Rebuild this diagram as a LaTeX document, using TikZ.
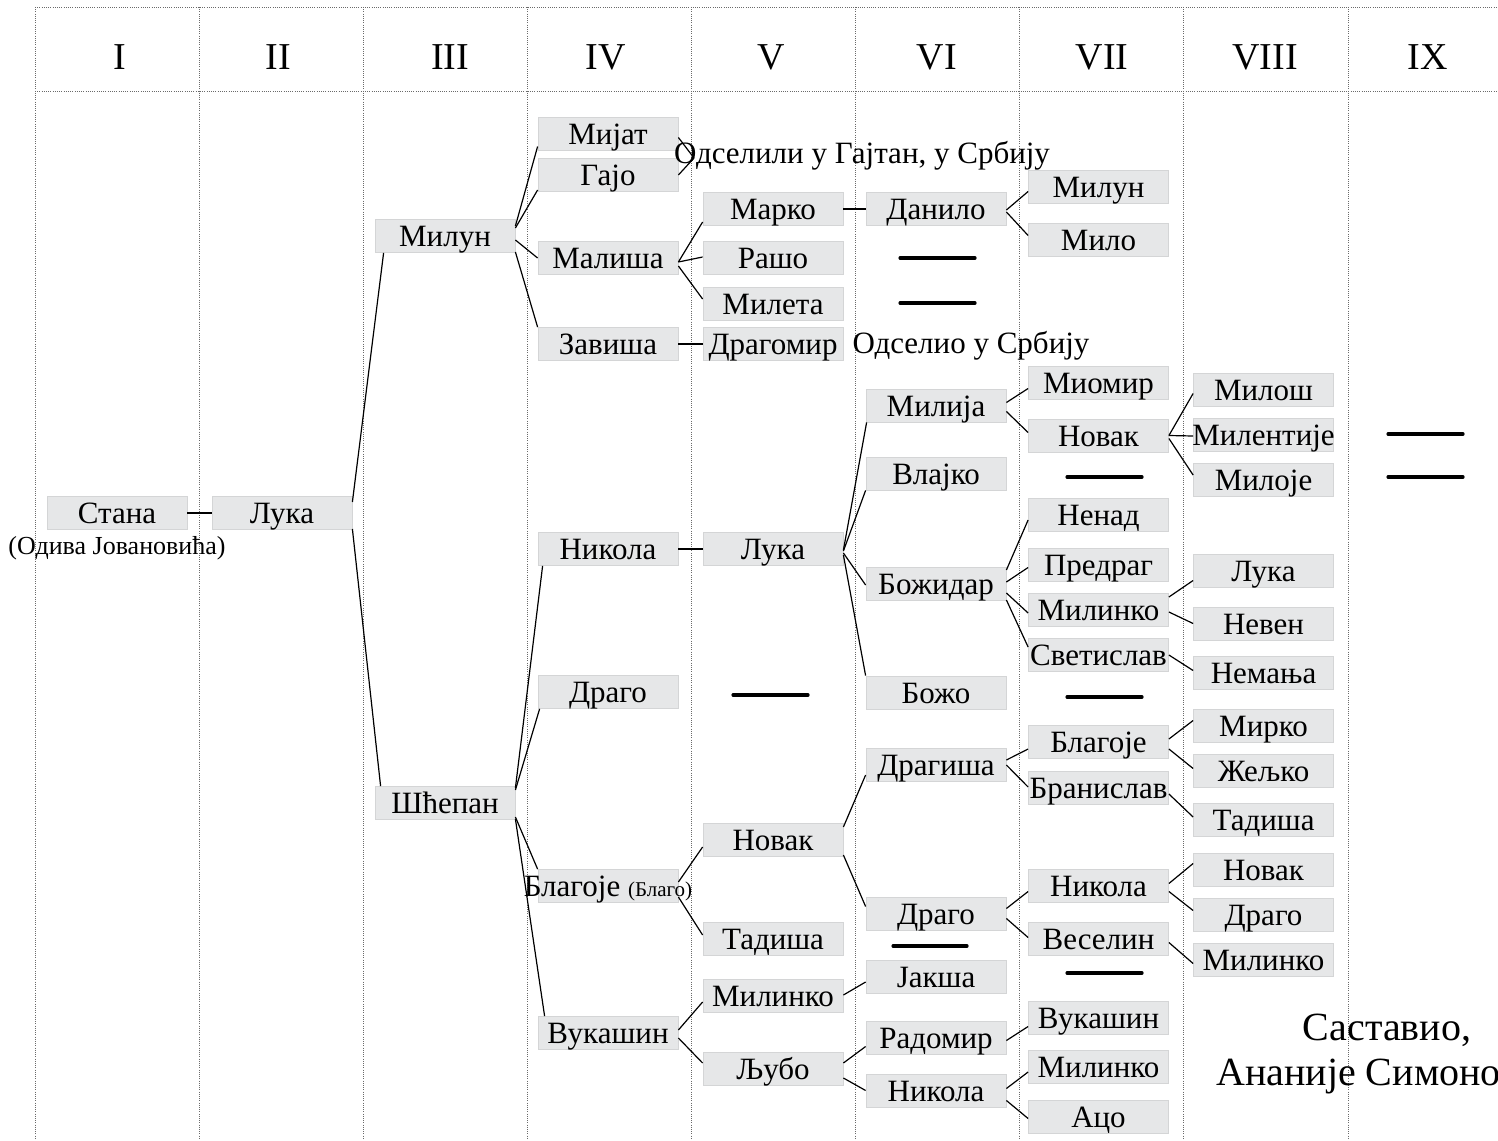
\documentclass[tikz,border=0pt]{standalone}
\usepackage{fontspec}
\setmainfont{Liberation Serif}
\usetikzlibrary{calc}
\definecolor{boxfill}{HTML}{E6E7E8}
\definecolor{boxline}{HTML}{D4D5D6}
\definecolor{gridc}{HTML}{6A6A6A}
\newcommand{\nmf}{\fontsize{31pt}{35pt}\selectfont}
\newcommand{\bx}[4]{\node[nbox] (#1) at (#2,#3) {\makebox[0pt]{#4}};}
\newcommand{\lk}[4]{\draw[conn] ($(#1.east)+(0,#2)$) -- ($(#3.west)+(0,#4)$);}
\begin{document}
\begin{tikzpicture}[x=1pt,y=-1pt,
 nbox/.style={draw=boxline, line width=0.8pt, fill=boxfill, minimum width=140pt, minimum height=33pt, inner sep=0pt, text height=25pt, text depth=4pt, font=\nmf},
 conn/.style={line width=1.2pt, black},
 gridline/.style={gridc, line width=0.9pt, dash pattern=on 1pt off 1.2pt},
 dashmark/.style={line width=3.2pt, line cap=round},
 hdr/.style={anchor=base, font=\fontsize{38pt}{42pt}\selectfont, inner sep=0pt},
 note/.style={anchor=base, font=\nmf, inner sep=0pt},
 bignote/.style={font=\fontsize{40pt}{44pt}\selectfont, inner sep=0pt}]
\useasboundingbox (0,0) rectangle (1498,1140);
% grid
\foreach \gx in {35,199,363,527,691,855,1019,1183,1348}
  \draw[gridline] (\gx,7) -- (\gx,1140);
\draw[gridline] (35,7) -- (1498,7);
\draw[gridline] (35,91) -- (1498,91);
% headers
\node[hdr] (h1) at (120,70) {I};
\node[hdr] (h2) at (278,70) {II};
\node[hdr] (h3) at (450,70) {III};
\node[hdr] (h4) at (606,70) {IV};
\node[hdr] (h5) at (771,70) {V};
\node[hdr] (h6) at (937,70) {VI};
\node[hdr] (h7) at (1102,70) {VII};
\node[hdr] (h8) at (1265,70) {VIII};
\node[hdr] (h9) at (1428,70) {IX};
% column I, II, III
\bx{stana}{117}{513}{Стана}
\node[anchor=base, font=\fontsize{26pt}{28pt}\selectfont, inner sep=0pt] (stanasub) at (117,554) {(Одива Јовановића)};
\bx{luka2}{282}{513}{Лука}
\bx{milun3}{445}{236}{Милун}
\bx{scep3}{445}{803}{Шћепан}
% column IV
\bx{mijat}{608}{133.5}{Мијат}
\bx{gajo}{608}{175}{Гајо}
\bx{malisa}{608}{258}{Малиша}
\bx{zavisa}{608}{344}{Завиша}
\bx{nikola4}{608}{549}{Никола}
\bx{drago4}{608}{692}{Драго}
\bx{blagoje4}{608}{886}{Благоје {\fontsize{21pt}{23pt}\selectfont(Благо)}}
\bx{vukasin4}{608}{1033}{Вукашин}
% column V
\bx{marko}{773}{209}{Марко}
\bx{raso}{773}{258}{Рашо}
\bx{mileta}{773}{304}{Милета}
\bx{dragomir}{773}{344}{Драгомир}
\bx{luka5}{773}{549}{Лука}
\bx{novak5}{773}{840}{Новак}
\bx{tadisa5}{773}{939}{Тадиша}
\bx{milinko5}{773}{996}{Милинко}
\bx{ljubo}{773}{1069}{Љубо}
% column VI
\bx{danilo}{936}{209}{Данило}
\bx{milija}{936}{405.5}{Милија}
\bx{vlajko}{936}{473.5}{Влајко}
\bx{bozidar}{936}{584}{Божидар}
\bx{bozo}{936}{692.5}{Божо}
\bx{dragisa}{936}{765}{Драгиша}
\bx{drago6}{936}{913.5}{Драго}
\bx{jaksa}{936}{977}{Јакша}
\bx{radomir}{936}{1037.5}{Радомир}
\bx{nikola6}{936}{1090.5}{Никола}
% column VII
\bx{milun7}{1098.5}{186.5}{Милун}
\bx{milo}{1098.5}{239.5}{Мило}
\bx{miomir}{1098.5}{382.5}{Миомир}
\bx{novak7}{1098.5}{435.5}{Новак}
\bx{nenad}{1098.5}{515}{Ненад}
\bx{predrag}{1098.5}{564.5}{Предраг}
\bx{milinko7}{1098.5}{610}{Милинко}
\bx{svetislav}{1098.5}{655}{Светислав}
\bx{blagoje7}{1098.5}{742}{Благоје}
\bx{branislav}{1098.5}{788}{Бранислав}
\bx{nikola7}{1098.5}{885.5}{Никола}
\bx{veselin}{1098.5}{938.5}{Веселин}
\bx{vukasin7}{1098.5}{1017.5}{Вукашин}
\bx{milinko7b}{1098.5}{1067}{Милинко}
\bx{aco}{1098.5}{1116.5}{Ацо}
% column VIII
\bx{milos}{1263.5}{389.5}{Милош}
\bx{milentije}{1263.5}{435}{Милентије}
\bx{miloje}{1263.5}{480}{Милоје}
\bx{luka8}{1263.5}{570.5}{Лука}
\bx{neven}{1263.5}{623.5}{Невен}
\bx{nemanja}{1263.5}{672.5}{Немања}
\bx{mirko}{1263.5}{725.5}{Мирко}
\bx{zeljko}{1263.5}{770.5}{Жељко}
\bx{tadisa8}{1263.5}{820}{Тадиша}
\bx{novak8}{1263.5}{869.5}{Новак}
\bx{drago8}{1263.5}{914.5}{Драго}
\bx{milinko8}{1263.5}{959.5}{Милинко}
% notes
\node[note] (note1) at (862,163) {Одселили у Гајтан, у Србију};
\coordinate (nj) at (694,158);
\node[note] (note2) at (971,353) {Одселио у Србију};
\node[bignote, anchor=base] (sast) at (1387,1040) {Саставио,};
\node[bignote, anchor=base west] (auth) at (1216,1085) {Ананије Симоно};
% dashes (no descendants)
\draw[dashmark] (900,258) -- (975,258);
\draw[dashmark] (900,303) -- (975,303);
\draw[dashmark] (733,695) -- (808,695);
\draw[dashmark] (1067,477) -- (1142,477);
\draw[dashmark] (1067,697) -- (1142,697);
\draw[dashmark] (1067,973) -- (1142,973);
\draw[dashmark] (893,946) -- (967,946);
\draw[dashmark] (1388,434) -- (1463,434);
\draw[dashmark] (1388,477) -- (1463,477);
% connectors
\lk{stana}{0}{luka2}{0}
\draw[conn] ($(luka2.east)+(0,-11)$) -- ($(milun3.south west)+(9,0)$);
\draw[conn] ($(luka2.east)+(0,16)$) -- ($(scep3.north west)+(6,0)$);
\lk{milun3}{-10}{mijat}{13}
\lk{milun3}{-8}{gajo}{15}
\lk{milun3}{4}{malisa}{0}
\draw[conn] ($(milun3.east)+(0,16)$) -- (zavisa.north west);
\draw[conn] ($(scep3.east)+(0,-15)$) -- ($(nikola4.south west)+(5,0)$);
\draw[conn] ($(scep3.east)+(0,-13)$) -- ($(drago4.south west)+(2,0)$);
\draw[conn] ($(scep3.east)+(0,14)$) -- (blagoje4.north west);
\draw[conn] ($(scep3.east)+(0,16)$) -- ($(vukasin4.north west)+(7,0)$);
\draw[conn] ($(mijat.east)+(0,4)$) -- (nj);
\draw[conn] (gajo.east) -- (nj);
\lk{malisa}{4}{marko}{13}
\lk{malisa}{4}{raso}{-1}
\lk{malisa}{8}{mileta}{-5}
\lk{zavisa}{0}{dragomir}{0}
\lk{marko}{0}{danilo}{0}
\lk{danilo}{1}{milun7}{5}
\lk{danilo}{3}{milo}{-4}
\lk{nikola4}{0}{luka5}{0}
\draw[conn] ($(luka5.east)+(0,1)$) -- ($(milija.south west)+(1,0)$);
\draw[conn] ($(luka5.east)+(0,2)$) -- (vlajko.south west);
\lk{luka5}{4}{bozidar}{1}
\draw[conn] ($(luka5.east)+(0,6)$) -- (bozo.north west);
\lk{milija}{-3}{miomir}{6}
\lk{milija}{6}{novak7}{-3}
\lk{novak7}{0}{milos}{4}
\lk{novak7}{0}{milentije}{1}
\lk{novak7}{3}{miloje}{-5}
\lk{bozidar}{-14}{nenad}{5}
\lk{bozidar}{-2}{predrag}{3}
\lk{bozidar}{9}{milinko7}{3}
\lk{bozidar}{16}{svetislav}{-8}
\lk{milinko7}{-13}{luka8}{10}
\lk{milinko7}{2}{neven}{0}
\lk{svetislav}{0}{nemanja}{-2}
\lk{novak5}{-13}{dragisa}{10}
\lk{novak5}{15}{drago6}{-7}
\lk{dragisa}{-5}{blagoje7}{7}
\lk{dragisa}{0}{branislav}{-1}
\lk{blagoje7}{-3}{mirko}{-5}
\lk{blagoje7}{7}{zeljko}{-2}
\lk{branislav}{6}{tadisa8}{-3}
\lk{drago6}{-5}{nikola7}{6}
\lk{drago6}{5}{veselin}{-1}
\lk{nikola7}{-2}{novak8}{-6}
\lk{nikola7}{6}{drago8}{-4}
\lk{veselin}{4}{milinko8}{4}
\lk{blagoje4}{-4}{novak5}{7}
\lk{blagoje4}{11}{tadisa5}{-4}
\lk{vukasin4}{-3}{milinko5}{6}
\lk{vukasin4}{5}{ljubo}{-6}
\lk{milinko5}{-1}{jaksa}{5}
\lk{ljubo}{-6}{radomir}{9}
\lk{ljubo}{9}{nikola6}{0}
\lk{radomir}{3}{vukasin7}{9}
\lk{nikola6}{-2}{milinko7b}{5}
\lk{nikola6}{10}{aco}{2}
\end{tikzpicture}
\end{document}
